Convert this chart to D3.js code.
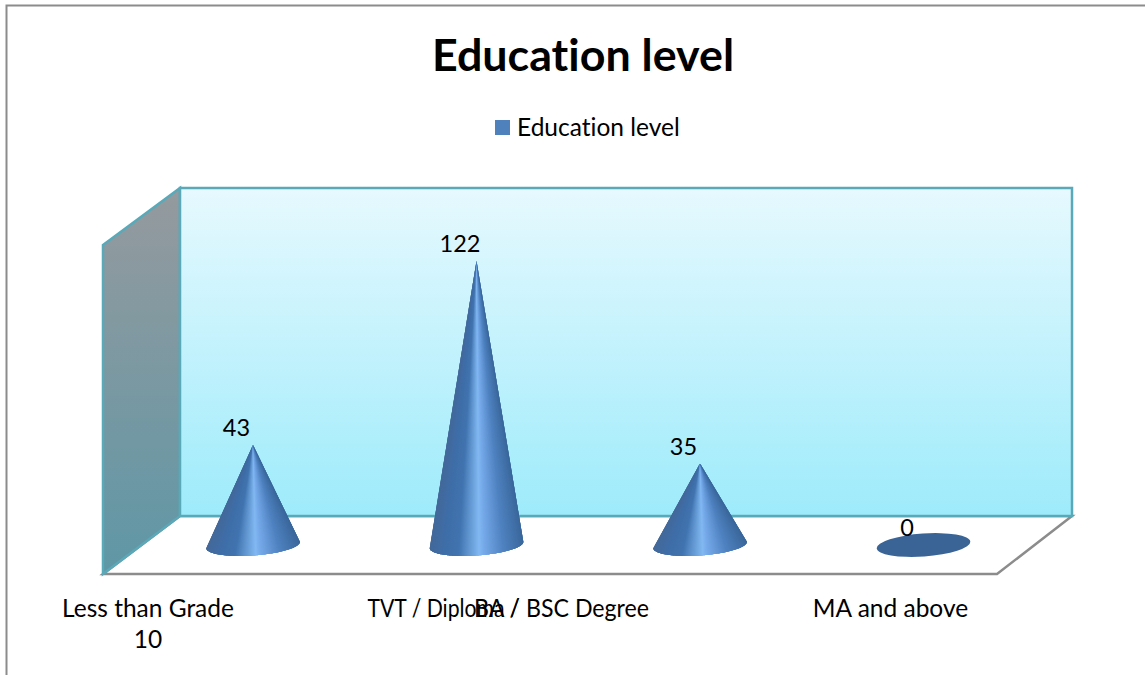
<!DOCTYPE html>
<html>
<head>
<meta charset="utf-8">
<script src="https://cdn.jsdelivr.net/npm/d3@7"></script>
<style>
    html, body { margin: 0; padding: 0; background: #fff; }
    svg { display: block; }
    text { font-family: Lato, "Open Sans", sans-serif; fill: #000; font-variant-ligatures: none; }
</style>
</head>
<body>
<div id="chart"></div>
<script>
var chartTitle = "Education level";
var seriesName = "Education level";
var categories = ["Less than Grade 10", "TVT / Diploma /", "BA / BSC Degree", "MA and above"];
var values = [43, 122, 35, 0];

var width = 1145, height = 675;
// 3d box corners, as drawn by the spreadsheet
var back = {left: 180, right: 1072, top: 188, bottom: 516};
var front = {left: 103, right: 997, top: 245, bottom: 574};
// category labels do not sit under their cones in the original
var labelOffsets = [-105, -33, -138.5, -33];
// the two labels that collide need their original widths
var labelWidths = [0, 152, 175, 0];
var labelSize = 24.5;
var valueSize = 23.5;

var svg = d3.select("#chart").append("svg")
    .attr("width", width)
    .attr("height", height);

var defs = svg.append("defs");

var wallGradient = defs.append("linearGradient")
    .attr("id", "wall")
    .attr("x1", 0).attr("y1", 0).attr("x2", 0).attr("y2", 1);
wallGradient.append("stop").attr("offset", 0).attr("stop-color", "#e6f9fe");
wallGradient.append("stop").attr("offset", 1).attr("stop-color", "#9eebfb");

var sideGradient = defs.append("linearGradient")
    .attr("id", "side")
    .attr("x1", 0).attr("y1", 0).attr("x2", 0).attr("y2", 1);
sideGradient.append("stop").attr("offset", 0).attr("stop-color", "#959a9e");
sideGradient.append("stop").attr("offset", 1).attr("stop-color", "#5f97a6");

var x = d3.scaleBand()
    .domain(categories)
    .range([141.25, 1035.25]);

var y = d3.scaleLinear()
    .domain([0, 122])
    .range([545, 261]);

var baseRx = x.bandwidth() * 0.21;
var baseRy = 10.5;
var baseTilt = -4 * Math.PI / 180;

var coneShade = d3.scaleLinear()
    .domain([0, 0.12, 0.3, 0.52, 0.58, 0.78, 1])
    .range(["#44699a", "#3f6da6", "#4074b0", "#82b8f2", "#74a8e8", "#4f82c0", "#3b689c"]);

// frame
svg.append("path")
    .attr("d", "M6.5,675V5.5H" + width)
    .attr("fill", "none")
    .attr("stroke", "#8c8c8c")
    .attr("stroke-width", 2);

// title and legend
svg.append("text")
    .attr("x", 583)
    .attr("y", 71)
    .attr("text-anchor", "middle")
    .attr("font-size", 44.8)
    .attr("font-weight", 700)
    .text(chartTitle);

svg.append("rect")
    .attr("x", 495)
    .attr("y", 120)
    .attr("width", 15)
    .attr("height", 15)
    .attr("fill", "#4f81bd");

svg.append("text")
    .attr("x", 517)
    .attr("y", 136)
    .attr("font-size", labelSize)
    .text(seriesName);

// floor
svg.append("path")
    .attr("d", d3.line()([[front.left, front.bottom], [back.left, back.bottom], [back.right, back.bottom], [front.right, front.bottom]]) + "Z")
    .attr("fill", "#fff")
    .attr("stroke", "#8c8c8c")
    .attr("stroke-width", 2.5);

// side wall
svg.append("path")
    .attr("d", d3.line()([[front.left, front.top], [back.left, back.top], [back.left, back.bottom], [front.left, front.bottom]]) + "Z")
    .attr("fill", "url(#side)")
    .attr("stroke", "#5aa9b9")
    .attr("stroke-width", 2.5);

// back wall
svg.append("rect")
    .attr("x", back.left)
    .attr("y", back.top)
    .attr("width", back.right - back.left)
    .attr("height", back.bottom - back.top)
    .attr("fill", "url(#wall)")
    .attr("stroke", "#5aa9b9")
    .attr("stroke-width", 2.5);

function basePoint(cx, theta) {
    var ex = baseRx * Math.cos(theta), ey = baseRy * Math.sin(theta);
    return [
        cx + ex * Math.cos(baseTilt) - ey * Math.sin(baseTilt),
        y(0) + ex * Math.sin(baseTilt) + ey * Math.cos(baseTilt)
    ];
}

// each cone is a fan of thin wedges so the shading converges at the tip,
// a wedge overlaps the next one so no seams show
var wedgeCount = 120;
var marks = svg.selectAll("g.cone")
    .data(categories.map(function(c, i) { return {name: c, value: values[i]}; }))
    .join("g")
    .attr("class", "cone");

marks.each(function(d) {
    var cx = x(d.name) + x.bandwidth() / 2;
    var g = d3.select(this);
    if (d.value === 0) {
        g.append("ellipse")
            .attr("rx", baseRx)
            .attr("ry", baseRy + 1)
            .attr("transform", "translate(" + cx + "," + y(0) + ") rotate(-4)")
            .attr("fill", "#3a6496");
        return;
    }
    g.selectAll("path")
        .data(d3.range(wedgeCount))
        .join("path")
        .attr("d", function(k) {
            var pts = [[cx, y(d.value)]];
            d3.range(k, Math.min(k + 4, wedgeCount) + 1).forEach(function(j) {
                pts.push(basePoint(cx, Math.PI * (1 - j / wedgeCount)));
            });
            return d3.line()(pts) + "Z";
        })
        .attr("fill", function(k) {
            return coneShade((1 - Math.cos(Math.PI * (k + 0.5) / wedgeCount)) / 2);
        });
});

// value labels
svg.selectAll("text.value")
    .data(values)
    .join("text")
    .attr("class", "value")
    .attr("x", function(d, i) { return x(categories[i]) + x.bandwidth() / 2 - 16.5; })
    .attr("y", function(d) { return y(d) - 9; })
    .attr("text-anchor", "middle")
    .attr("font-size", valueSize)
    .text(function(d) { return d; });

// category labels, the long one wraps its last word
var catLabels = svg.selectAll("text.category")
    .data(categories)
    .join("text")
    .attr("class", "category")
    .attr("y", 617)
    .attr("text-anchor", "middle")
    .attr("font-size", labelSize);

catLabels.each(function(d, i) {
    var label = d3.select(this);
    var cx = x(d) + x.bandwidth() / 2 + labelOffsets[i];
    var words = d.split(" ");
    var lines = d.length > 16 ? [words.slice(0, -1).join(" "), words[words.length - 1]] : [d];
    label.selectAll("tspan")
        .data(lines)
        .join("tspan")
        .attr("x", cx)
        .attr("dy", function(l, n) { return n ? 31 : 0; })
        .text(function(l) { return l; });
    if (labelWidths[i]) {
        label.attr("textLength", labelWidths[i]).attr("lengthAdjust", "spacingAndGlyphs");
    }
});
</script>
</body>
</html>
